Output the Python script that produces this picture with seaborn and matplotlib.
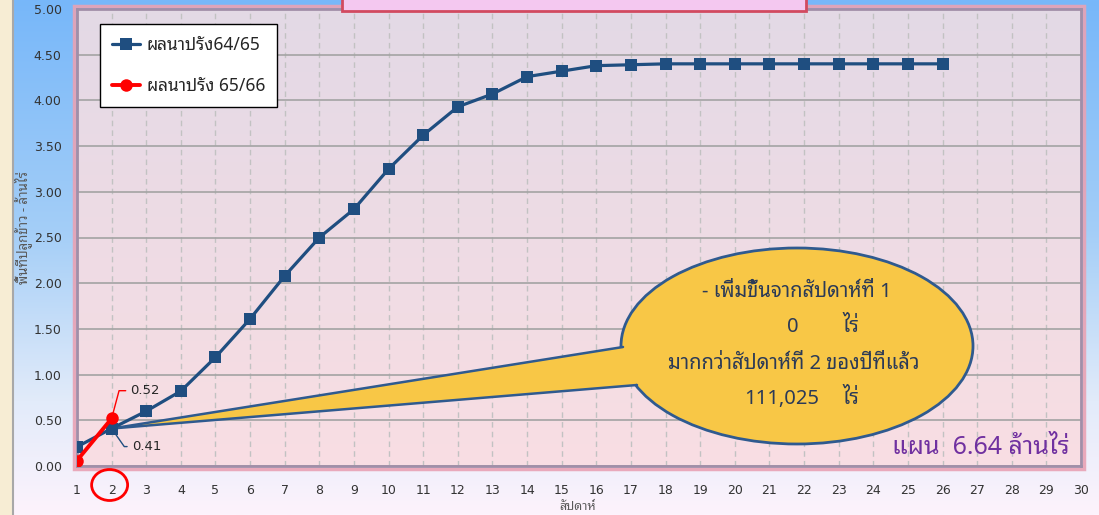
import numpy as np
import pandas as pd
import matplotlib
matplotlib.use("Agg")
import matplotlib.pyplot as plt
import seaborn as sns
from matplotlib import font_manager
from matplotlib.patches import Ellipse, Polygon, Rectangle
from matplotlib.colors import LinearSegmentedColormap
from matplotlib.lines import Line2D
import matplotlib.transforms as mtransforms

# ---------------- data ----------------
weeks_prev = list(range(1, 27))
area_prev = [0.21, 0.41, 0.60, 0.82, 1.19, 1.61, 2.08, 2.50, 2.81, 3.25,
             3.62, 3.93, 4.07, 4.26, 4.32, 4.38, 4.39, 4.40, 4.40, 4.40,
             4.40, 4.40, 4.40, 4.40, 4.40, 4.40]
weeks_cur = [1, 2]
area_cur = [0.06, 0.52]
label_prev = "ผลนาปรัง64/65"
label_cur = "ผลนาปรัง 65/66"
x_ticks = list(range(1, 31))
y_ticks = [0.0, 0.5, 1.0, 1.5, 2.0, 2.5, 3.0, 3.5, 4.0, 4.5, 5.0]
x_label = "สัปดาห์"
y_label = "พื้นที่ปลูกข้าว - ล้านไร่"
callout_line1 = "- เพิ่มขึ้นจากสัปดาห์ที่ 1"
callout_val1 = "0"
callout_line3 = "มากกว่าสัปดาห์ที่ 2 ของปีที่แล้ว"
callout_val2 = "111,025"
unit = "ไร่"
plan_text = "แผน  6.64 ล้านไร่"

# ---------------- fonts ----------------
def thai_fonts():
    found = []
    try:
        from fontTools.ttLib import TTFont
    except Exception:
        return found
    seen = set()
    for f in font_manager.fontManager.ttflist:
        if f.name in seen:
            continue
        try:
            tt = TTFont(f.fname, fontNumber=0, lazy=True)
            cmap = tt.getBestCmap()
            if cmap and 0x0E01 in cmap and 0x0E49 in cmap:
                found.append(f.name)
                seen.add(f.name)
        except Exception:
            pass
    pref = ["Tahoma", "Leelawadee", "Noto Sans Thai", "Loma", "Garuda", "Sarabun", "Kinnari"]
    found.sort(key=lambda n: next((i for i, p in enumerate(pref) if p.lower() in n.lower()), 99))
    return found

sns.set_theme(style="white")
tf = thai_fonts()
families = (tf[:1] if tf else []) + ["DejaVu Sans"]
plt.rcParams["font.family"] = families

# ---------------- figure ----------------
fig = plt.figure(figsize=(10.99, 5.15), dpi=100)
W, H = 1099, 515

# figure gradient background
bg = fig.add_axes([0, 0, 1, 1], zorder=-10)
bg_cmap = LinearSegmentedColormap.from_list(
    "bg", [(0.0, "#77b7fa"), (0.45, "#a4cef7"), (0.78, "#e2ebfa"), (1.0, "#fdf3fc")])
bg.imshow(np.linspace(0, 1, 256).reshape(-1, 1), aspect="auto", cmap=bg_cmap,
          extent=[0, 1, 0, 1])
bg.add_patch(Rectangle((0, 0), 12 / W, 1, transform=bg.transAxes, fc="#f7edd4", ec="none"))
bg.add_line(Line2D([13 / W, 13 / W], [0, 1], transform=bg.transAxes, color="#a8a8a8", lw=1.5))
bg.set_xlim(0, 1)
bg.set_ylim(0, 1)
bg.axis("off")

# title box (cut at top)
fig.patches.append(Rectangle((342 / W, 1 - 11 / H), (806 - 342) / W, 30 / H,
                             transform=fig.transFigure, fc="#f4c8f0", ec="#d24a60",
                             lw=2, zorder=5))

left, right, top, bottom = 77, 1081, 9, 466
ax = fig.add_axes([left / W, 1 - bottom / H, (right - left) / W, (bottom - top) / H], zorder=1)

# plot-area gradient
pa_cmap = LinearSegmentedColormap.from_list("pa", ["#f9dee3", "#e3d9e6"])
ax.imshow(np.linspace(0, 1, 256).reshape(-1, 1), origin="lower", aspect="auto",
          cmap=pa_cmap, extent=[0, 1, 0, 1], transform=ax.transAxes, zorder=-5)

navy = "#1f4e80"
red = "#ff0000"

sns.lineplot(x=weeks_prev, y=area_prev, ax=ax, color=navy, lw=2.3, marker="s",
             markersize=8.5, markeredgewidth=0, zorder=4, label=label_prev)
sns.lineplot(x=weeks_cur, y=area_cur, ax=ax, color=red, lw=2.8, marker="o",
             markersize=9, markeredgewidth=0, zorder=5, label=label_cur)

ax.set_xlim(1, 30)
ax.set_ylim(0, 5)
ax.set_xticks(x_ticks)
ax.set_yticks(y_ticks)
ax.set_yticklabels([f"{v:.2f}" for v in y_ticks])
ax.set_axisbelow(True)
ax.grid(axis="y", color="#a3a3a3", lw=1.2, ls="-")
ax.grid(axis="x", color="#c2c2c2", lw=1.0, ls=(0, (4, 3)))
ax.tick_params(axis="both", length=0, labelsize=9, labelcolor="#333333")
ax.tick_params(axis="y", pad=11)
ax.tick_params(axis="x", pad=13)
for lab in ax.get_xticklabels() + ax.get_yticklabels():
    lab.set_fontfamily("DejaVu Sans")
ax.set_xlabel("")
ax.set_ylabel("")
for s in ax.spines.values():
    s.set_color("#a18ea8")
    s.set_linewidth(2.0)

# glow frame around plot area
fig.patches.append(Rectangle((left / W - 3 / W, 1 - bottom / H - 3 / H),
                             (right - left + 6) / W, (bottom - top + 6) / H,
                             transform=fig.transFigure, fill=False, ec="#e9a2b4",
                             lw=2.5, alpha=0.9, zorder=0.5))

# legend
leg = ax.legend(loc="upper left", bbox_to_anchor=(0.023, 0.968), frameon=True,
                fancybox=False, edgecolor="black", framealpha=1, facecolor="white",
                fontsize=12.5, labelspacing=1.35, borderpad=0.7, handlelength=1.6,
                handletextpad=0.4, borderaxespad=0)
leg.get_frame().set_linewidth(1.0)
leg.set_zorder(10)

# data labels with leader lines
ax.annotate(f"{area_cur[1]:.2f}", xy=(weeks_cur[1], area_cur[1]), xytext=(13.5, 20),
            textcoords="offset points", ha="left", va="center", fontsize=9.5,
            color="#262626", family="DejaVu Sans", zorder=8,
            arrowprops=dict(arrowstyle="-", color=red, lw=1, shrinkA=1, shrinkB=0,
                            relpos=(0, 0.5),
                            connectionstyle="angle,angleA=0,angleB=75,rad=0"))
ax.annotate(f"{area_prev[1]:.2f}", xy=(weeks_prev[1], area_prev[1]), xytext=(14.5, -13),
            textcoords="offset points", ha="left", va="center", fontsize=9.5,
            color="#262626", family="DejaVu Sans", zorder=8,
            arrowprops=dict(arrowstyle="-", color=navy, lw=1, shrinkA=1, shrinkB=0,
                            relpos=(0, 0.5),
                            connectionstyle="angle,angleA=0,angleB=-55,rad=0"))

# callout bubble
def px2data(px, py):
    return (1 + (px - left) / (right - left) * 29, (bottom - py) / (bottom - top) * 5)

cx, cy = px2data(797, 346)
ew = 352 / (right - left) * 29
eh = 196 / (bottom - top) * 5
yellow = "#f8c746"
edge = "#2f5a8f"
ell = Ellipse((cx, cy), ew, eh, fc=yellow, ec=edge, lw=2, zorder=3)
ax.add_patch(ell)
tip = (weeks_prev[1], area_prev[1])
b1 = px2data(623, 347)
b2 = px2data(637, 385)
ax.add_patch(Polygon([tip, b1, b2], closed=True, fc=yellow, ec="none", zorder=3.1))
ax.add_line(Line2D([tip[0], b1[0]], [tip[1], b1[1]], color=edge, lw=1.8, zorder=3.2))
ax.add_line(Line2D([tip[0], b2[0]], [tip[1], b2[1]], color=edge, lw=1.8, zorder=3.2))

txt_color = "#2b3a57"
fs_call = 14.5
for t, px, py in [(callout_line1, 797, 292), (callout_val1, 793, 327),
                  (unit, 851, 327), (callout_line3, 794, 364),
                  (callout_val2, 782, 399), (unit, 851, 399)]:
    x, y = px2data(px, py)
    ax.text(x, y, t, ha="center", va="center", fontsize=fs_call, color=txt_color, zorder=6)

# plan text
ax.text(0.989, 0.041, plan_text, transform=ax.transAxes, ha="right", va="center",
        fontsize=18, color="#7030a0", zorder=6)

# red circle around tick "2"
blend = mtransforms.blended_transform_factory(ax.transData, ax.transAxes)
ax.add_patch(Ellipse((2 - 2 / 34.6, (bottom - 485) / (bottom - top)), 36 / 34.62,
                     31 / (bottom - top), transform=blend, fill=False, ec=red, lw=2,
                     clip_on=False, zorder=9))

# axis titles
fig.text(23 / W, 1 - 228 / H, y_label, rotation=90, ha="center", va="center",
         fontsize=9.5, color="#595959")
fig.text(578 / W, 1 - 507 / H, x_label, ha="center", va="center",
         fontsize=9, color="#595959")

fig.savefig("out.png", dpi=100)
